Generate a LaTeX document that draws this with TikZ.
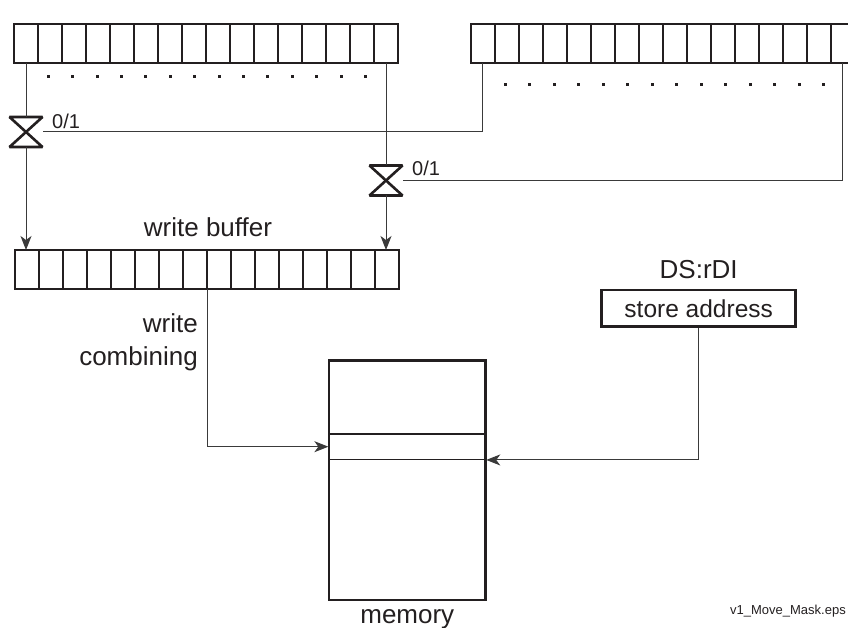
\documentclass[tikz,border=0pt]{standalone}
\usepackage{fontspec}
\setmainfont{Liberation Sans}
\usetikzlibrary{arrows.meta, positioning}
\definecolor{linedark}{HTML}{231F20}
\definecolor{wiregray}{HTML}{3A3A3A}

\begin{document}
\begin{tikzpicture}[
  x=1pt, y=-1pt,
  cell/.style={
    rectangle, draw=linedark, line width=2.4pt,
    inner sep=0pt, outer sep=0pt,
    minimum width=24pt, minimum height=39pt
  },
  wire/.style={wiregray, line width=1pt},
  arrowwire/.style={wire, -{Stealth[length=14pt, width=11pt, inset=4pt]}},
  switchbox/.style={inner sep=0pt, outer sep=0pt, minimum width=33pt, minimum height=30pt},
  bowtie/.style={linedark, line width=2.6pt, line join=bevel},
  bigtext/.style={font=\fontsize{26}{33}\selectfont, text=linedark, inner sep=0pt},
  smalltext/.style={font=\fontsize{20}{24}\selectfont, text=linedark, inner sep=0pt}
]
  \useasboundingbox (0,0) rectangle (848,628);
  \clip (0,0) rectangle (848,628);

  % Source registers
  \foreach \i in {0,...,15} {
    \node[cell] (regA-\i) at (26+24*\i, 43.5) {};
    \node[cell] (regB-\i) at (482.7+24*\i, 43.5) {};
  }
  \foreach \k in {0,...,13} {
    \fill[linedark] (46.8+24.4*\k, 75.5) rectangle +(3,3);
    \fill[linedark] (503.5+24.5*\k, 83.5) rectangle +(3,3);
  }

  % Mask switches
  \node[switchbox] (swA) at (26,132) {};
  \node[switchbox] (swB) at (386,180.5) {};
  \foreach \s in {swA, swB}
    \draw[bowtie] (\s.north west) -- (\s.north east) -- (\s.south west) -- (\s.south east) -- cycle;
  \node[smalltext, anchor=base west] (mskA) at (52,129) {0/1};
  \node[smalltext, anchor=base west] (mskB) at (412,176) {0/1};

  % Write buffer
  \foreach \i in {0,...,15}
    \node[cell] (wbuf-\i) at (27+24*\i, 269.5) {};
  \node[bigtext, anchor=base] (wbtitle) at (208,237) {write buffer};

  % Data paths to the buffer
  \draw[wire] (regA-0.south) -- (swA.north);
  \draw[wire] (regA-15.south) -- (swB.north);
  \draw[wire] (regB-0.south) |- (swA.east);
  \draw[wire] (regB-15.south) |- (swB.east);
  \draw[arrowwire] (swA.south) -- (swA.south |- wbuf-0.north);
  \draw[arrowwire] (swB.south) -- (swB.south |- wbuf-15.north);

  % Memory
  \node[rectangle, draw=linedark, line width=2.6pt, inner sep=0pt,
        minimum width=156.7pt, minimum height=239.3pt] (mem) at (407.3,480.3) {};
  \node[rectangle, draw=linedark, line width=1.2pt, inner sep=0pt,
        minimum width=156.7pt, minimum height=25.3pt] (slot) at (407.3,446.7) {};
  \node[bigtext, anchor=base] (memtitle) at (407.3,623) {memory};

  % Store address
  \node[rectangle, draw=linedark, line width=2.6pt, inner sep=0pt,
        minimum width=194pt, minimum height=36.7pt,
        font=\fontsize{24.5}{28}\selectfont, text=linedark] (addr) at (698.7,308.3) {store address};
  \node[bigtext, anchor=base] (dsrdi) at (698.7,278) {DS:rDI};

  % Write combining and store
  \draw[arrowwire] (wbuf-8.south west) |- (slot.west);
  \node[bigtext, align=right, anchor=base east] (wctext) at (198,365) {write\\combining};
  \draw[arrowwire] (addr.south) |- (slot.south east);

  \node[font=\fontsize{13}{15}\selectfont, text=linedark, inner sep=0pt, anchor=east] (fname) at (846,611) {v1\_Move\_Mask.eps};
\end{tikzpicture}
\end{document}
